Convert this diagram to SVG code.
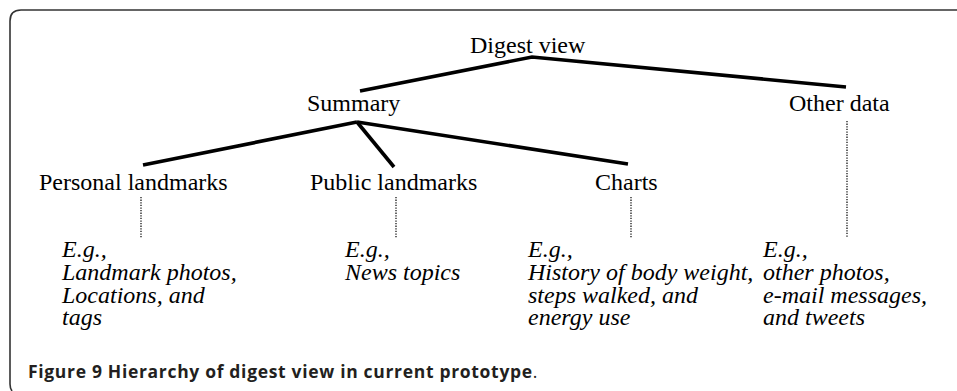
<svg xmlns="http://www.w3.org/2000/svg" width="957" height="391" viewBox="0 0 957 391">
  <style>
    .lbl { font-family: "Liberation Serif", "Times New Roman", serif; font-size: 24px; fill: #000; }
    .ex { font-family: "Liberation Serif", "Times New Roman", serif; font-size: 24px; font-style: italic; fill: #000; }
    .edge { stroke: #000; stroke-width: 3.6; fill: none; stroke-linecap: butt; }
    .dot { stroke: #000; stroke-width: 1.2; fill: none; stroke-dasharray: 1.3 1.3; }
    .frame { stroke: #333; stroke-width: 1.6; fill: none; }
    .cap { font-family: "Open Sans", "Noto Sans", sans-serif; font-size: 17.5px; letter-spacing: 0.68px; fill: #231f20; }
  </style>
  <rect width="957" height="391" fill="#fff"/>
  <path class="frame" d="M 12 391 Q 10 388 10 384 L 10 21 Q 10 10 21 10 L 957 10"/>

  <g id="connectors">
    <polyline class="edge" points="360,91 532,57 846,87"/>
    <line class="edge" x1="357" y1="122" x2="143" y2="165"/>
    <line class="edge" x1="357" y1="122" x2="394" y2="167"/>
    <line class="edge" x1="357" y1="122" x2="628" y2="164"/>
    <line class="dot" x1="141" y1="197" x2="141" y2="238"/>
    <line class="dot" x1="396" y1="197" x2="396" y2="238"/>
    <line class="dot" x1="631" y1="197" x2="631" y2="238"/>
    <line class="dot" x1="847" y1="121" x2="847" y2="237"/>
  </g>

  <g id="digest-view"><text class="lbl" x="470" y="53">Digest view</text></g>
  <g id="summary"><text class="lbl" x="307" y="111">Summary</text></g>
  <g id="other-data"><text class="lbl" x="789" y="111">Other data</text></g>
  <g id="personal-landmarks"><text class="lbl" x="39" y="190">Personal landmarks</text></g>
  <g id="public-landmarks"><text class="lbl" x="310" y="190">Public landmarks</text></g>
  <g id="charts"><text class="lbl" x="595" y="190">Charts</text></g>

  <g id="personal-examples">
    <text class="ex" x="62" y="257">E.g.,</text>
    <text class="ex" x="62" y="280">Landmark photos,</text>
    <text class="ex" x="62" y="303">Locations, and</text>
    <text class="ex" x="62" y="325">tags</text>
  </g>
  <g id="public-examples">
    <text class="ex" x="345" y="257">E.g.,</text>
    <text class="ex" x="345" y="280">News topics</text>
  </g>
  <g id="charts-examples">
    <text class="ex" x="528" y="257">E.g.,</text>
    <text class="ex" x="528" y="280">History of body weight,</text>
    <text class="ex" x="528" y="303">steps walked, and</text>
    <text class="ex" x="528" y="325">energy use</text>
  </g>
  <g id="other-examples">
    <text class="ex" x="763" y="257">E.g.,</text>
    <text class="ex" x="763" y="280">other photos,</text>
    <text class="ex" x="763" y="303">e-mail messages,</text>
    <text class="ex" x="763" y="325">and tweets</text>
  </g>

  <text class="cap" x="28" y="378"><tspan font-weight="bold">Figure 9 Hierarchy of digest view in current prototype</tspan>.</text>
</svg>
